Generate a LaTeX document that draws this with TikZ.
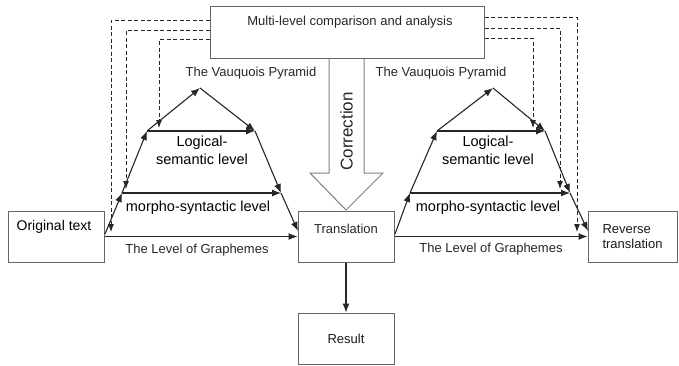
\documentclass[tikz,border=0pt]{standalone}
\usepackage{fontspec}
\setmainfont{Liberation Sans}
\usetikzlibrary{arrows.meta}
\begin{document}
\begin{tikzpicture}[x=1pt,y=-1pt,
  box/.style={draw=black!60, line width=1pt, minimum width=96pt, minimum height=51pt, inner sep=0pt, font=\fontsize{13}{15}\selectfont, text=black!90},
  txt/.style={font=\fontsize{13}{15}\selectfont, text=black!85, inner sep=0pt},
  big/.style={font=\fontsize{14.5}{18}\selectfont, text=black, inner sep=0pt, align=center},
  lvl/.style={draw=black!85, line width=1.1pt, -{Latex[length=9pt,width=7pt]}},
  dsh/.style={draw=black!85, line width=0.9pt, dash pattern=on 4pt off 2.5pt, -{Latex[length=8pt,width=6pt]}},
  hollow/.style={draw=black!50, fill=white, line width=1pt},
]
\useasboundingbox (0,0) rectangle (679,365);

% correction arrow
\draw[hollow] (329,58) -- (329,173) -- (310,173) -- (346,210) -- (383,173) -- (364,173) -- (364,58);
\node[rotate=90, font=\fontsize{17}{19}\selectfont, text=black!85, inner sep=0pt] (corr) at (346.5,131.5) {Correction};

% boxes
\node[box, minimum width=274pt, minimum height=52pt] (mla) at (347,32) {};
\node[txt] (mlat) at (350,22) {Multi-level comparison and analysis};
\node[box] (orig) at (56,236.5) {};
\node[txt, font=\fontsize{14}{16}\selectfont, text=black] (origt) at (54,227) {Original text};
\node[box] (trans) at (346,236.5) {};
\node[txt] (transt) at (346,229) {Translation};
\node[box] (res) at (346,338.5) {Result};
\node[box, minimum width=89pt, align=left] (rev) at (632.5,236.5) {Reverse\\translation};

\draw[lvl] (trans) -- (res);

% left pyramid
\coordinate (a1) at (105,234);
\coordinate (l1) at (122,193);
\coordinate (r1) at (281,193);
\coordinate (l2) at (147,131);
\coordinate (r2) at (255,131);
\coordinate (ap) at (200,88);
\coordinate (b1) at (298,231);
\draw[lvl] (orig.east) -- (trans.west);
\draw[lvl] (a1) -- (l1);
\draw[lvl] (l1) -- (l2);
\draw[lvl] (l2) -- (ap);
\draw[lvl] (ap) -- (r2);
\draw[lvl] (r2) -- (r1);
\draw[lvl] (r1) -- (b1);
\draw[lvl] (l2) -- (r2);
\draw[lvl] (l1) -- (r1);

% right pyramid
\coordinate (a2) at (395,234);
\coordinate (m1) at (410,193);
\coordinate (n1) at (570,193);
\coordinate (m2) at (437,131);
\coordinate (n2) at (545,131);
\coordinate (aq) at (493,88);
\coordinate (b2) at (588,231);
\draw[lvl] (trans.east) -- (rev.west);
\draw[lvl] (a2) -- (m1);
\draw[lvl] (m1) -- (m2);
\draw[lvl] (m2) -- (aq);
\draw[lvl] (aq) -- (n2);
\draw[lvl] (n2) -- (n1);
\draw[lvl] (n1) -- (b2);
\draw[lvl] (m2) -- (n2);
\draw[lvl] (m1) -- (n1);

% dashed feedback lines
\coordinate (dl1) at (111,232);
\coordinate (dl2) at (126,189);
\coordinate (dl3) at (159,128);
\coordinate (dr1) at (577,232);
\coordinate (dr2) at (560,189);
\coordinate (dr3) at (533,128);
\draw[dsh] ([yshift=-14.5pt]mla.north west) -| (dl1);
\draw[dsh] ([yshift=-24.5pt]mla.north west) -| (dl2);
\draw[dsh] ([yshift=-34pt]mla.north west) -| (dl3);
\draw[dsh] ([yshift=-12pt]mla.north east) -| (dr1);
\draw[dsh] ([yshift=-22.5pt]mla.north east) -| (dr2);
\draw[dsh] ([yshift=-32.5pt]mla.north east) -| (dr3);

% labels
\node[txt] (vpl) at (251,73) {The Vauquois Pyramid};
\node[txt] (vpr) at (441,73) {The Vauquois Pyramid};
\node[big] (lsl) at (202,150) {Logical-\\semantic level};
\node[big] (lsr) at (488,150) {Logical-\\semantic level};
\node[big] (msl) at (198,208) {morpho-syntactic level};
\node[big] (msr) at (488,208) {morpho-syntactic level};
\node[txt] (lgl) at (197,250) {The Level of Graphemes};
\node[txt] (lgr) at (491,249) {The Level of Graphemes};
\end{tikzpicture}
\end{document}
